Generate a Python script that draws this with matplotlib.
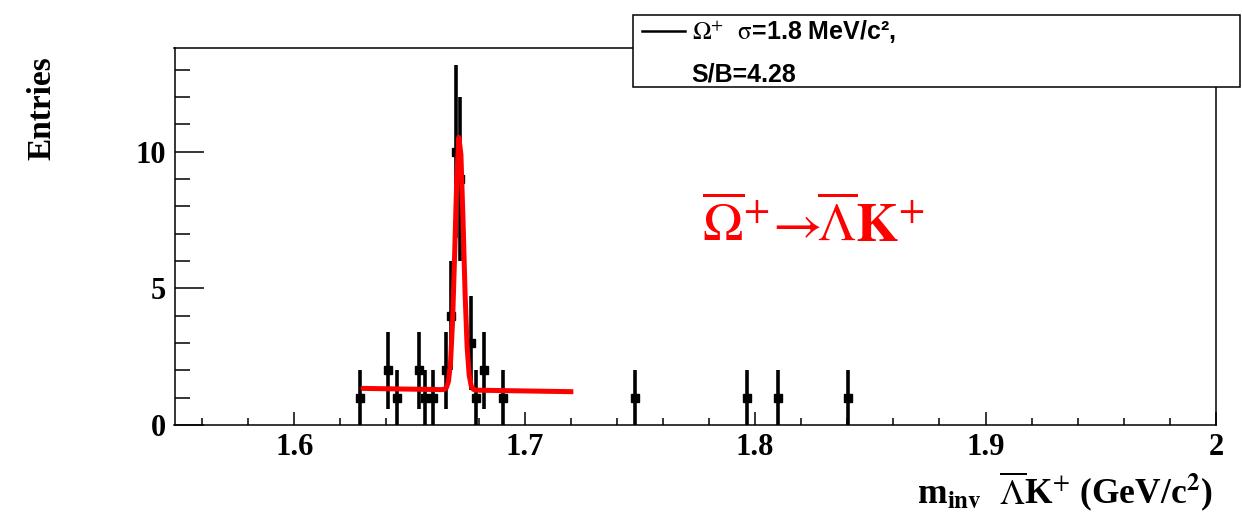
import numpy as np
import matplotlib
matplotlib.use("Agg")
import matplotlib.pyplot as plt
from matplotlib.patches import Rectangle
from matplotlib.lines import Line2D
from matplotlib.ticker import MultipleLocator, FuncFormatter

plt.rcParams["mathtext.fontset"] = "stix"

# invariant mass of anti-Lambda K+ candidates (GeV/c^2) and entries per bin
mass = [1.6283, 1.6405, 1.6444, 1.6542, 1.6568, 1.6603, 1.6659, 1.6681,
        1.6703, 1.6720, 1.6766, 1.6789, 1.6824, 1.6904,
        1.7480, 1.7964, 1.8101, 1.8401]
entries = [1, 2, 1, 2, 1, 1, 2, 4,
           10, 9, 3, 1, 2, 1,
           1, 1, 1, 1]

# Gaussian + linear background fit
fit_range = (1.63, 1.72)
peak_mean = 1.6716
peak_sigma = 0.0018
peak_amplitude = 9.3
bkg_at_low = 1.34
bkg_at_high = 1.22

x_ticks = [1.6, 1.7, 1.8, 1.9, 2.0]
y_ticks = [0, 5, 10]

W, H = 1242, 515
fig = plt.figure(figsize=(W / 100, H / 100), dpi=100)
fig.patch.set_facecolor("white")
ax = fig.add_axes([174.5 / W, 1 - 425 / H, (1216 - 174.5) / W, (425 - 48) / H])

err = np.sqrt(entries)
ax.errorbar(mass, entries, yerr=err, fmt="s", color="black", ms=6,
            elinewidth=2.6, capsize=0, zorder=2)

xs = np.linspace(fit_range[0], fit_range[1], 101)
bkg = bkg_at_low + (bkg_at_high - bkg_at_low) * (xs - fit_range[0]) / (fit_range[1] - fit_range[0])
ys = bkg + peak_amplitude * np.exp(-0.5 * ((xs - peak_mean) / peak_sigma) ** 2)
ax.plot(xs, ys, color="red", lw=3.6, zorder=3)

ax.set_xlim(1.548, 2.0)
ax.set_ylim(0, 13.8)
ax.set_xticks(x_ticks)
ax.set_yticks(y_ticks)
ax.xaxis.set_minor_locator(MultipleLocator(0.02))
ax.yaxis.set_minor_locator(MultipleLocator(1))
fmt = FuncFormatter(lambda v, p: "%g" % round(v, 3))
ax.xaxis.set_major_formatter(fmt)
ax.yaxis.set_major_formatter(fmt)

ax.tick_params(which="both", direction="in", top=False, right=False, width=1.1)
ax.tick_params(axis="x", which="major", length=9.4, pad=6)
ax.tick_params(axis="x", which="minor", length=5)
ax.tick_params(axis="y", which="major", length=21, pad=6)
ax.tick_params(axis="y", which="minor", length=10.8)
for lab in ax.get_xticklabels() + ax.get_yticklabels():
    lab.set_fontfamily("Liberation Serif")
    lab.set_fontweight("bold")
    lab.set_fontsize(22)
for s in ax.spines.values():
    s.set_linewidth(1.1)

ax.text(1.7768, 6.7, r"$\overline{\Omega}^{+}\!\rightarrow\!\!\overline{\Lambda}\mathbf{K}^{+}$",
        color="red", fontsize=39, ha="left", va="baseline", zorder=4)

ax.text(0.997, -0.178, r"m$_{\mathbf{inv}}$  $\overline{\Lambda}$K$^{+}$ (GeV/c$^{\mathbf{2}}$)",
        transform=ax.transAxes, ha="right", va="center",
        fontfamily="Liberation Serif", fontweight="bold", fontsize=25.5)

ax.text((42 - 174.5) / 1041.5, (425 - 108) / 377, "Entries", rotation=90,
        transform=ax.transAxes, ha="center", va="center",
        fontfamily="Liberation Serif", fontweight="bold", fontsize=24)

# legend box drawn in figure pixels
def fx(px):
    return px / W

def fy(py):
    return 1 - py / H

box = Rectangle((fx(632.7), fy(86.7)), fx(1240) - fx(632.7), fy(15) - fy(86.7),
                transform=fig.transFigure, facecolor="white", edgecolor="black",
                lw=1.1, zorder=10)
fig.add_artist(box)
fig.add_artist(Line2D([fx(641.7), fx(685)], [fy(30.7), fy(30.7)],
                      transform=fig.transFigure, color="black", lw=1.8, zorder=11))
fig.text(fx(691.7), fy(40), r"$\Omega^{+}$  $\mathrm{\sigma}$=1.8 MeV/c²,",
         ha="left", va="baseline", fontfamily="Liberation Sans", fontweight="bold",
         fontsize=18, zorder=11)
fig.text(fx(691.7), fy(81.7), "S/B=4.28",
         ha="left", va="baseline", fontfamily="Liberation Sans", fontweight="bold",
         fontsize=18, zorder=11)

fig.savefig("out.png", dpi=100)
